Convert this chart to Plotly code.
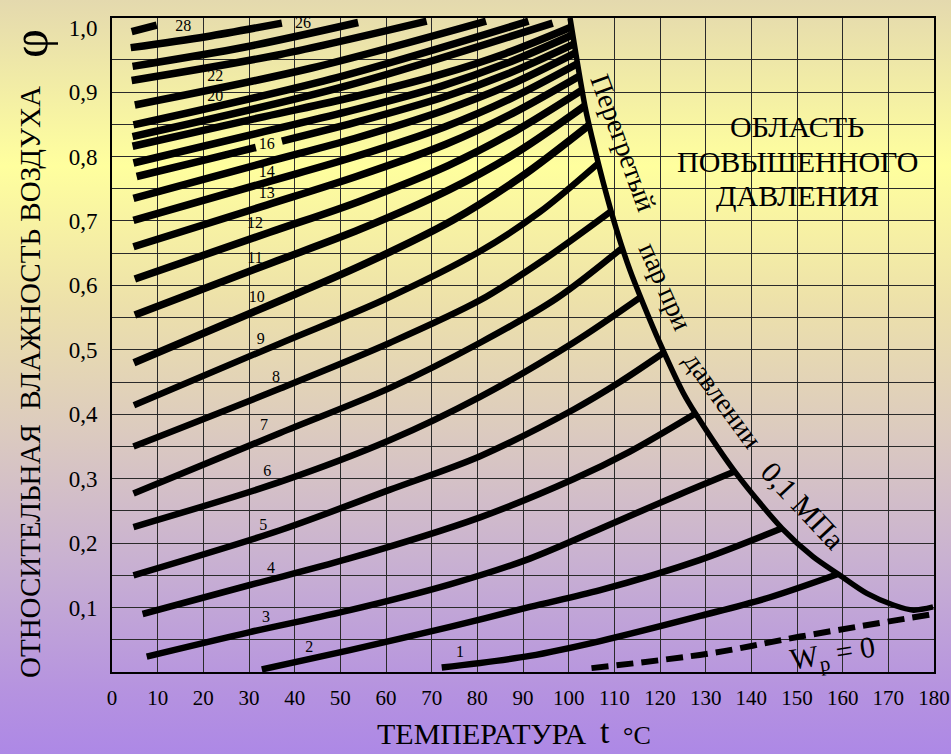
import base64
import plotly.graph_objects as go

# ---------------- data (t in °C, relative humidity phi as fraction) ----------------
x_ticks = list(range(0, 181, 10))
y_ticks = [0.1, 0.2, 0.3, 0.4, 0.5, 0.6, 0.7, 0.8, 0.9, 1.0]
y_ticktext = ["0,1", "0,2", "0,3", "0,4", "0,5", "0,6", "0,7", "0,8", "0,9", "1,0"]
y_grid = [0.05, 0.1, 0.15, 0.2, 0.25, 0.3, 0.35, 0.4, 0.45, 0.5,
          0.55, 0.6, 0.65, 0.7, 0.75, 0.8, 0.85, 0.9, 0.95]

# superheated steam at 0.1 MPa boundary
boundary_t = [100.3, 101.8, 103.6, 105.4, 107.6, 110.5, 113.4, 116.3, 120.0, 125.1,
              127.7, 136.6, 146.7, 153.5, 159.0, 165.3, 171.1, 175.5, 179.8]
boundary_phi = [1.015, 0.950, 0.877, 0.821, 0.759, 0.686, 0.624, 0.572, 0.510, 0.433,
                0.402, 0.309, 0.223, 0.179, 0.152, 0.122, 0.104, 0.096, 0.101]

# equilibrium moisture content isolines
curve_01 = ([72.2, 91.5, 106.9, 128.8, 144.1, 159.0], [0.007, 0.025, 0.048, 0.087, 0.116, 0.152])
curve_02 = ([32.8, 52.1, 74.0, 91.5, 106.9, 128.8, 146.7], [0.004, 0.034, 0.070, 0.101, 0.127, 0.174, 0.223])
curve_03 = ([7.6, 30.2, 52.1, 74.0, 91.5, 109.7, 124.4, 136.6], [0.024, 0.062, 0.096, 0.136, 0.176, 0.231, 0.276, 0.312])
curve_04 = ([6.7, 30.2, 51.4, 80.6, 101.0, 113.4, 127.5], [0.090, 0.135, 0.175, 0.240, 0.299, 0.342, 0.400])
curve_05 = ([4.7, 36.8, 60.9, 80.6, 101.0, 111.2, 120.7], [0.150, 0.220, 0.283, 0.335, 0.407, 0.450, 0.495])
curve_06 = ([4.7, 36.8, 60.9, 80.6, 101.0, 115.6], [0.225, 0.295, 0.360, 0.427, 0.511, 0.581])
curve_07 = ([4.7, 36.8, 60.9, 80.6, 97.4, 111.5], [0.277, 0.371, 0.441, 0.511, 0.580, 0.657])
curve_08 = ([4.7, 36.8, 60.9, 80.6, 94.8, 109.1], [0.350, 0.440, 0.511, 0.577, 0.641, 0.714])
curve_09 = ([4.8, 36.8, 59.3, 80.6, 93.7, 106.4], [0.414, 0.510, 0.577, 0.653, 0.714, 0.789])
curve_10 = ([4.8, 34.7, 54.6, 74.6, 89.5, 104.5], [0.480, 0.570, 0.631, 0.701, 0.768, 0.849])
curve_11 = ([5.0, 34.6, 54.3, 74.0, 88.8, 103.6], [0.554, 0.634, 0.687, 0.749, 0.807, 0.879])
curve_12 = ([5.0, 34.4, 54.0, 73.6, 88.2, 102.9], [0.610, 0.682, 0.730, 0.786, 0.839, 0.903])
curve_13 = ([4.7, 34.0, 53.5, 73.1, 87.7, 102.4], [0.660, 0.725, 0.769, 0.819, 0.867, 0.925])
curve_14 = ([4.7, 33.8, 53.3, 72.8, 87.3, 101.9], [0.701, 0.760, 0.800, 0.846, 0.890, 0.944])
curve_15 = ([4.7, 33.7, 53.1, 72.5, 87.0, 101.5], [0.735, 0.791, 0.828, 0.871, 0.911, 0.961])
curve_16 = ([5.4, 19.3, 31.5, None, 37.2, 53.3, 72.5, 86.8, 101.2],
            [0.769, 0.793, 0.814, None, 0.824, 0.853, 0.892, 0.929, 0.975])
curve_17 = ([4.7, 33.5, 52.8, 72.0, 86.5, 100.9], [0.790, 0.839, 0.872, 0.909, 0.945, 0.989])
curve_18 = ([4.5, 33.4, 52.6, 71.8, 86.2, 100.6], [0.816, 0.862, 0.892, 0.927, 0.960, 1.001])
curve_19 = ([4.5, 50.5, 96.5], [0.831, 0.908, 1.007])
curve_20 = ([4.7, 47.9, 91.2], [0.849, 0.920, 1.010])
curve_22 = ([5.0, 43.5, 81.9], [0.880, 0.937, 1.010])
curve_23 = ([4.3, 36.6, 68.9], [0.918, 0.958, 1.010])
curve_24 = ([4.5, 29.2, 53.9], [0.940, 0.970, 1.008])
curve_26 = ([4.1, 20.6, 37.2], [0.969, 0.986, 1.007])
curve_28 = ([4.3, 9.8], [0.994, 1.004])

# Wp = 0 dashed line
wp0_t = [105.0, 131.0, 150.7, 179.1]
wp0_phi = [0.006, 0.029, 0.055, 0.089]

# isoline labels
label_text = ["1", "2", "3", "4", "5", "6", "7", "8", "9", "10", "11", "12", "13",
              "14", "16", "20", "22", "26", "28"]
label_t = [76.2, 43.2, 33.7, 34.8, 33.1, 34.0, 33.3, 35.9, 32.6, 31.7, 31.3, 31.3, 33.9,
           33.9, 33.9, 22.6, 22.6, 41.8, 15.6]
label_phi = [0.029, 0.037, 0.084, 0.160, 0.226, 0.311, 0.382, 0.456, 0.515, 0.581, 0.641,
             0.695, 0.742, 0.775, 0.818, 0.892, 0.924, 1.006, 1.001]

curves = [curve_01, curve_02, curve_03, curve_04, curve_05, curve_06, curve_07, curve_08,
          curve_09, curve_10, curve_11, curve_12, curve_13, curve_14, curve_15, curve_16,
          curve_17, curve_18, curve_19, curve_20, curve_22, curve_23, curve_24, curve_26,
          curve_28]

# ---------------- layout geometry ----------------
W, H = 951, 754
ML, MR, MT, MB = 112, 17, 18, 82
PW, PH = W - ML - MR, H - MT - MB
Y_TOP = 1.015
SERIF = "Liberation Serif, Times New Roman, serif"


def px_paper(px, py):
    return (px - ML) / PW, (H - MB - py) / PH


fig = go.Figure()

for i, (t_vals, phi_vals) in enumerate(curves):
    fig.add_trace(go.Scatter(x=t_vals, y=phi_vals, mode="lines",
                             line=dict(color="black", width=6.5 if i < 9 else 7.5,
                                       shape="spline", smoothing=0.9),
                             connectgaps=False, hoverinfo="skip", showlegend=False))

fig.add_trace(go.Scatter(x=boundary_t, y=boundary_phi, mode="lines",
                         line=dict(color="black", width=5.5, shape="spline", smoothing=0.8),
                         hoverinfo="skip", showlegend=False))

fig.add_trace(go.Scatter(x=wp0_t, y=wp0_phi, mode="lines",
                         line=dict(color="black", width=6, dash="17px,8px", shape="spline"),
                         hoverinfo="skip", showlegend=False))

fig.add_trace(go.Scatter(x=label_t, y=label_phi, text=label_text, mode="text",
                         textfont=dict(family=SERIF, size=16, color="black"),
                         hoverinfo="skip", showlegend=False, cliponaxis=False))

# gradient background
GRAD = [(0.0, "#e4d9ae"), (0.22, "#ffff9e"), (0.40, "#ede1aa"), (0.57, "#dccbbf"),
        (0.75, "#c8b0d2"), (0.92, "#b592e0"), (1.0, "#ad88e6")]
stops = "".join(f'<stop offset="{o}" stop-color="{c}"/>' for o, c in GRAD)
svg = (f'<svg xmlns="http://www.w3.org/2000/svg" width="{W}" height="{H}" '
       f'viewBox="0 0 {W} {H}" preserveAspectRatio="none"><defs>'
       f'<linearGradient id="g" x1="0" y1="0" x2="0" y2="1">{stops}</linearGradient></defs>'
       f'<rect x="0" y="0" width="{W}" height="{H}" fill="url(#g)"/></svg>')
src = "data:image/svg+xml;base64," + base64.b64encode(svg.encode("utf-8")).decode("ascii")

fig.add_layout_image(dict(source=src, xref="paper", yref="paper",
                          x=-ML / PW, y=1 + MT / PH, sizex=W / PW, sizey=H / PH,
                          xanchor="left", yanchor="top", sizing="stretch", layer="below"))


def txt(text, x, y, size, angle=0, ref="data", yanchor="middle"):
    if ref == "paper":
        x, y = px_paper(x, y)
        xr, yr = "paper", "paper"
    else:
        xr, yr = "x", "y"
    return dict(text=text, x=x, y=y, xref=xr, yref=yr, showarrow=False,
                textangle=angle, xanchor="center", yanchor=yanchor,
                font=dict(family=SERIF, size=size, color="black"))


annotations = [
    txt("ОБЛАСТЬ", 150.0, 0.846, 30),
    txt("ПОВЫШЕННОГО", 150.0, 0.792, 30),
    txt("ДАВЛЕНИЯ", 150.0, 0.739, 30),
    txt("Перегретый", 112.1, 0.821, 28, 70),
    txt("пар при", 121.2, 0.598, 28, 66),
    txt("давлении", 133.9, 0.422, 28, 54),
    txt("0,1 МПа", 151.4, 0.259, 30, 47),
    txt("W<sub>р</sub> = 0", 157.9, 0.026, 30, -9),
    txt("ОТНОСИТЕЛЬНАЯ\u00a0 ВЛАЖНОСТЬ ВОЗДУХА", 30, 382, 29, -90, "paper"),
    txt("φ", 30, 44, 50, -90, "paper"),
    txt("ТЕМПЕРАТУРА", 482, 752, 30, 0, "paper", "bottom"),
    txt("t", 605, 752, 34, 0, "paper", "bottom"),
    txt("°C", 637, 752, 26, 0, "paper", "bottom"),
]

fig.update_layout(
    width=W, height=H,
    margin=dict(l=ML, r=MR, t=MT, b=MB, pad=0, autoexpand=False),
    autosize=False,
    paper_bgcolor="#e6d8c0",
    plot_bgcolor="rgba(0,0,0,0)",
    showlegend=False,
    annotations=annotations,
    xaxis=dict(range=[0, 180], tickvals=x_ticks, ticktext=[str(v) for v in x_ticks],
               showgrid=True, gridcolor="#2a2a2a", gridwidth=1.3, zeroline=False,
               showline=True, linecolor="black", linewidth=2, mirror=True,
               ticks="", ticklabelstandoff=6, automargin=False,
               tickfont=dict(family=SERIF, size=21, color="black")),
    yaxis=dict(range=[0, Y_TOP], tickvals=y_ticks, ticktext=y_ticktext,
               showgrid=False, zeroline=False,
               showline=True, linecolor="black", linewidth=2, mirror=True,
               ticks="", ticklabelstandoff=8, automargin=False,
               tickfont=dict(family=SERIF, size=23, color="black"),
               minor=dict(tickvals=y_grid, showgrid=True, gridcolor="#2a2a2a",
                          gridwidth=1.3, ticks="")),
)

fig.write_html(
    "out.html",
    config={"responsive": False, "displayModeBar": False},
    post_script="document.body.style.margin='0px';document.body.style.overflow='hidden';"
                "document.documentElement.style.overflow='hidden';",
)
